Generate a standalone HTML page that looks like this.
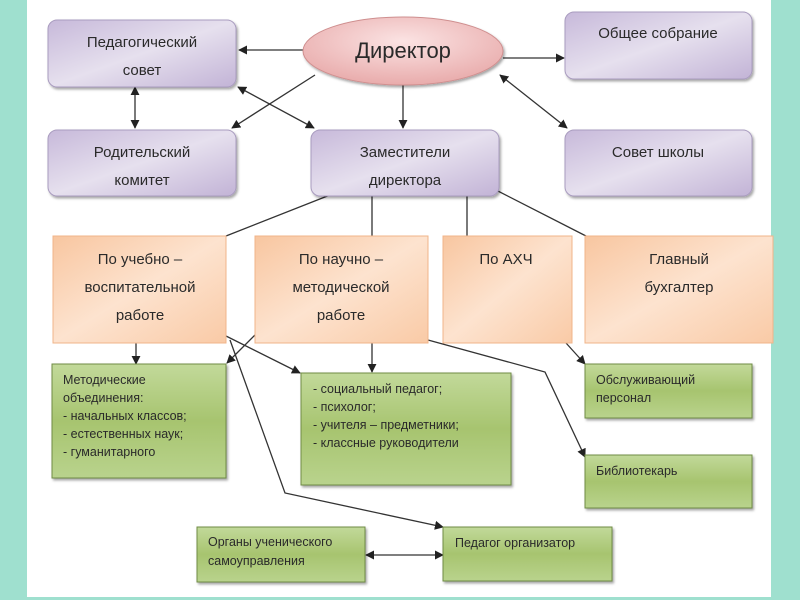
<!DOCTYPE html>
<html><head><meta charset="utf-8">
<style>
html,body{margin:0;padding:0;background:#fff;}
svg{display:block;}
text{font-family:"Liberation Sans","DejaVu Sans",sans-serif;fill:#2a2a2a;}
</style></head>
<body>
<svg width="800" height="600" viewBox="0 0 800 600" xmlns="http://www.w3.org/2000/svg">
<defs>
<linearGradient id="pur" x1="0" y1="0" x2="1" y2="1">
<stop offset="0" stop-color="#c7b9da"/><stop offset="0.5" stop-color="#e6e0ee"/><stop offset="1" stop-color="#c2b3d6"/>
</linearGradient>
<linearGradient id="org" x1="0" y1="0" x2="1" y2="1">
<stop offset="0" stop-color="#f8c6a0"/><stop offset="0.5" stop-color="#fde3cf"/><stop offset="1" stop-color="#f9caa6"/>
</linearGradient>
<linearGradient id="grn" x1="0" y1="0" x2="0" y2="1">
<stop offset="0" stop-color="#c2d99a"/><stop offset="0.5" stop-color="#a7c46f"/><stop offset="1" stop-color="#b9d38d"/>
</linearGradient>
<radialGradient id="red" cx="0.5" cy="0.35" r="0.7">
<stop offset="0" stop-color="#fbe3e3"/><stop offset="1" stop-color="#e7a7a7"/>
</radialGradient>
<filter id="sh" x="-5%" y="-5%" width="115%" height="120%">
<feDropShadow dx="1.5" dy="2" stdDeviation="1.2" flood-color="#000" flood-opacity="0.35"/>
</filter>
<marker id="a" viewBox="0 0 10 10" refX="9" refY="5" markerWidth="9" markerHeight="9" markerUnits="userSpaceOnUse" orient="auto-start-reverse">
<path d="M0,0 L10,5 L0,10 z" fill="#222"/></marker>
</defs>
<rect x="0" y="0" width="27" height="600" fill="#9fe0cf"/>
<rect x="771" y="0" width="29" height="600" fill="#9fe0cf"/>
<rect x="0" y="597" width="800" height="3" fill="#9fe0cf"/>

<g stroke="#333" stroke-width="1.3" fill="none">
<line x1="303" y1="50" x2="239" y2="50" marker-end="url(#a)"/>
<line x1="503" y1="58" x2="564" y2="58" marker-end="url(#a)"/>
<line x1="500" y1="75" x2="567" y2="128" marker-start="url(#a)" marker-end="url(#a)"/>
<line x1="315" y1="75" x2="232" y2="128" marker-end="url(#a)"/>
<line x1="238" y1="87" x2="314" y2="128" marker-start="url(#a)" marker-end="url(#a)"/>
<line x1="135" y1="87" x2="135" y2="128" marker-start="url(#a)" marker-end="url(#a)"/>
<line x1="403" y1="85" x2="403" y2="128" marker-end="url(#a)"/>
<line x1="330" y1="195" x2="226" y2="236"/>
<line x1="372" y1="196" x2="372" y2="236"/>
<line x1="467" y1="196" x2="467" y2="236"/>
<line x1="492" y1="188" x2="586" y2="236"/>
<line x1="136" y1="343" x2="136" y2="364" marker-end="url(#a)"/>
<line x1="255" y1="335" x2="227" y2="363" marker-end="url(#a)"/>
<line x1="226" y1="336" x2="300" y2="373" marker-end="url(#a)"/>
<polyline points="230,340 285,493 443,527" marker-end="url(#a)"/>
<line x1="372" y1="343" x2="372" y2="372" marker-end="url(#a)"/>
<polyline points="428,340 545,372 585,457" marker-end="url(#a)"/>
<line x1="566" y1="343" x2="585" y2="364" marker-end="url(#a)"/>
<line x1="366" y1="555" x2="443" y2="555" marker-start="url(#a)" marker-end="url(#a)"/>
</g>

<g stroke="#a99cbf" stroke-width="1" filter="url(#sh)">
<rect x="48" y="20" width="188" height="67" rx="9" fill="url(#pur)"/>
<rect x="565" y="12" width="187" height="67" rx="9" fill="url(#pur)"/>
<rect x="48" y="130" width="188" height="66" rx="9" fill="url(#pur)"/>
<rect x="311" y="130" width="188" height="66" rx="9" fill="url(#pur)"/>
<rect x="565" y="130" width="187" height="66" rx="9" fill="url(#pur)"/>
</g>
<ellipse cx="403" cy="51" rx="100" ry="34" fill="url(#red)" stroke="#cf8f8f" filter="url(#sh)"/>

<g stroke="#f0b48a" stroke-width="1">
<rect x="53" y="236" width="173" height="107" fill="url(#org)"/>
<rect x="255" y="236" width="173" height="107" fill="url(#org)"/>
<rect x="443" y="236" width="129" height="107" fill="url(#org)"/>
<rect x="585" y="236" width="188" height="107" fill="url(#org)"/>
</g>

<g stroke="#6f8c45" stroke-width="1" filter="url(#sh)">
<rect x="52" y="364" width="174" height="114" fill="url(#grn)"/>
<rect x="301" y="373" width="210" height="112" fill="url(#grn)"/>
<rect x="585" y="364" width="167" height="54" fill="url(#grn)"/>
<rect x="585" y="455" width="167" height="53" fill="url(#grn)"/>
<rect x="197" y="527" width="168" height="55" fill="url(#grn)"/>
<rect x="443" y="527" width="169" height="54" fill="url(#grn)"/>
</g>

<g font-size="15" text-anchor="middle">
<text x="142" y="47">Педагогический</text><text x="142" y="75">совет</text>
<text x="658" y="38">Общее собрание</text>
<text x="142" y="157">Родительский</text><text x="142" y="185">комитет</text>
<text x="405" y="157">Заместители</text><text x="405" y="185">директора</text>
<text x="658" y="157">Совет школы</text>
<text x="140" y="264">По учебно –</text><text x="140" y="292">воспитательной</text><text x="140" y="320">работе</text>
<text x="341" y="264">По научно –</text><text x="341" y="292">методической</text><text x="341" y="320">работе</text>
<text x="506" y="264">По АХЧ</text>
<text x="679" y="264">Главный</text><text x="679" y="292">бухгалтер</text>
</g>
<text x="403" y="58" font-size="22" text-anchor="middle">Директор</text>

<g font-size="12.5">
<text x="63" y="384">Методические</text><text x="63" y="402">объединения:</text>
<text x="63" y="420">- начальных классов;</text><text x="63" y="438">- естественных наук;</text>
<text x="63" y="456">- гуманитарного</text>
<text x="313" y="393">- социальный педагог;</text><text x="313" y="411">- психолог;</text>
<text x="313" y="429">- учителя – предметники;</text><text x="313" y="447">- классные руководители</text>
<text x="596" y="384">Обслуживающий</text><text x="596" y="402">персонал</text>
<text x="596" y="475">Библиотекарь</text>
<text x="208" y="546">Органы ученического</text><text x="208" y="565">самоуправления</text>
<text x="455" y="547">Педагог организатор</text>
</g>
</svg>
</body></html>
